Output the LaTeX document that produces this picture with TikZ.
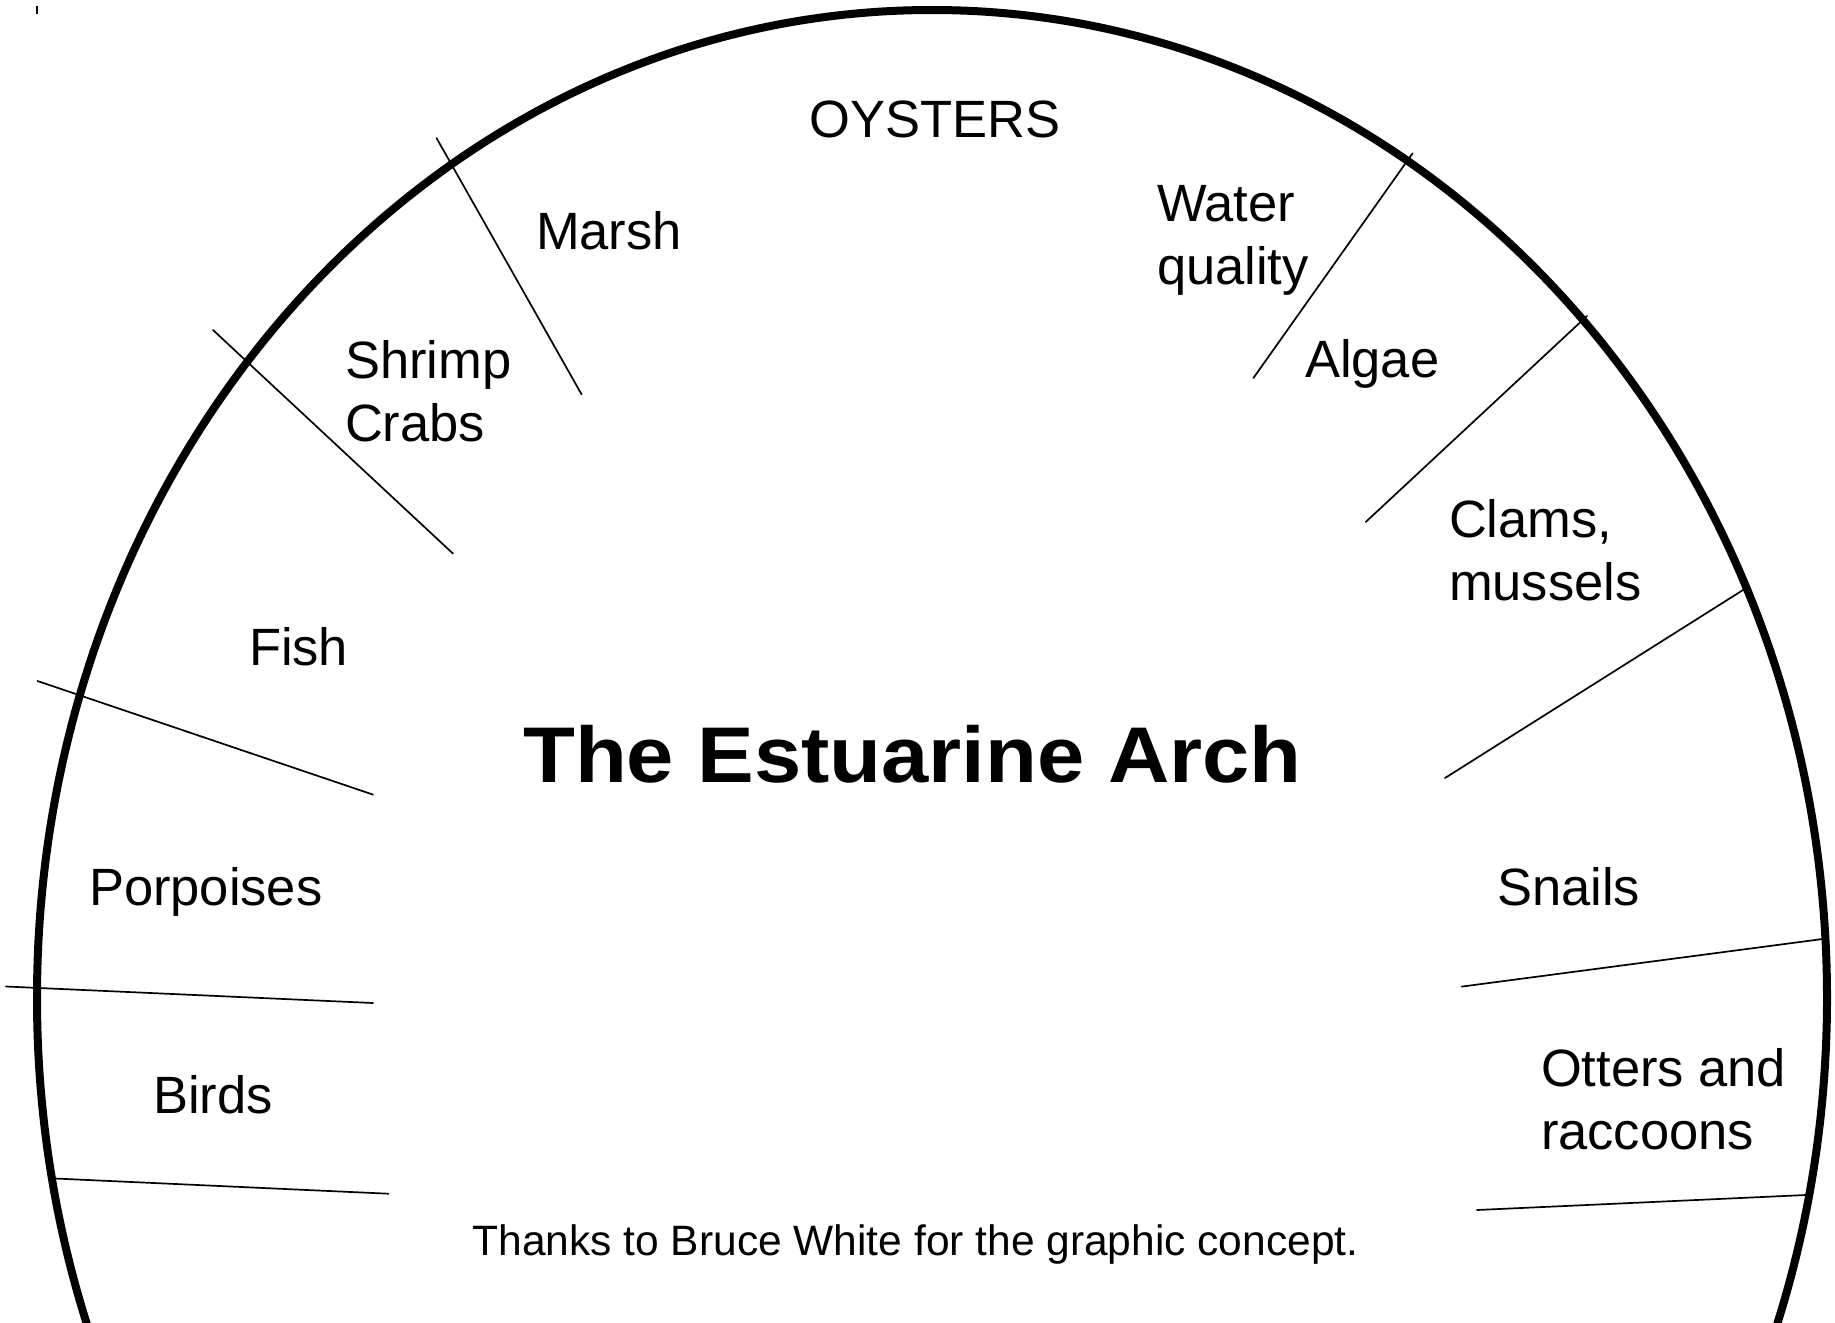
\documentclass[tikz,border=0pt]{standalone}
\usepackage{fontspec}
\usepackage{graphicx}
\setmainfont{Liberation Sans}
\begin{document}
\begin{tikzpicture}[x=1pt,y=-1pt,
  lbl/.style={inner sep=0pt,outer sep=0pt,anchor=base west,align=left,
    font=\fontsize{52.5}{63}\selectfont},
  sepline/.style={line width=1.7pt,line cap=round},
  arch/.style={line width=8pt}]
\useasboundingbox (0,0) rectangle (1835,1322);
\begin{scope}
\clip (0,0) rectangle (1835,1322);
\draw[arch] (932,998) ellipse [x radius=895pt, y radius=988pt];
\end{scope}
\draw[line width=1.5pt] (37,6) -- (37,14);
% separators
\coordinate (l1a) at (436.5,138); \coordinate (l1b) at (581.6,394.4);
\coordinate (l2a) at (213,330);   \coordinate (l2b) at (453,553.6);
\coordinate (l3a) at (37.5,681);  \coordinate (l3b) at (373,794.6);
\coordinate (l4a) at (5.9,986.5); \coordinate (l4b) at (373,1003);
\coordinate (l5a) at (55,1178.5); \coordinate (l5b) at (388.5,1193.7);
\coordinate (r1a) at (1412.6,153.3); \coordinate (r1b) at (1253.4,378);
\coordinate (r2a) at (1587,316);     \coordinate (r2b) at (1365.7,522);
\coordinate (r3a) at (1747,587.5);   \coordinate (r3b) at (1445,778);
\coordinate (r4a) at (1825.6,938.6); \coordinate (r4b) at (1461.7,986.6);
\coordinate (r5a) at (1805.8,1195);  \coordinate (r5b) at (1477,1210);
\foreach \s in {l1,l2,l3,l4,l5,r1,r2,r3,r4,r5}
  \draw[sepline] (\s a) -- (\s b);
% labels (base = baseline of the last line)
\node[lbl,anchor=base] (oysters) at (935,137) {OYSTERS};
\node[lbl] (marsh) at (536,249) {Marsh};
\node[lbl] (shrimp) at (345,441) {Shrimp\\Crabs};
\node[lbl] (fish) at (249,665) {Fish};
\node[lbl] (porpoises) at (89,905) {Porpoises};
\node[lbl] (birds) at (153,1113) {Birds};
\node[lbl] (water) at (1157,284) {Water\\quality};
\node[lbl] (algae) at (1305,377) {Algae};
\node[lbl] (clams) at (1449,600) {Clams,\\mussels};
\node[lbl] (snails) at (1497,905) {Snails};
\node[lbl] (otters) at (1541,1149) {Otters and\\raccoons};
\node[inner sep=0pt,anchor=base,font=\fontsize{79}{90}\selectfont\bfseries] (title) at (912.5,782) {\scalebox{1.075}[1]{The Estuarine Arch}};
\node[inner sep=0pt,anchor=base,font=\fontsize{42.5}{50}\selectfont] (thanks) at (915.5,1255) {Thanks to Bruce White for the graphic concept.};
\end{tikzpicture}
\end{document}
